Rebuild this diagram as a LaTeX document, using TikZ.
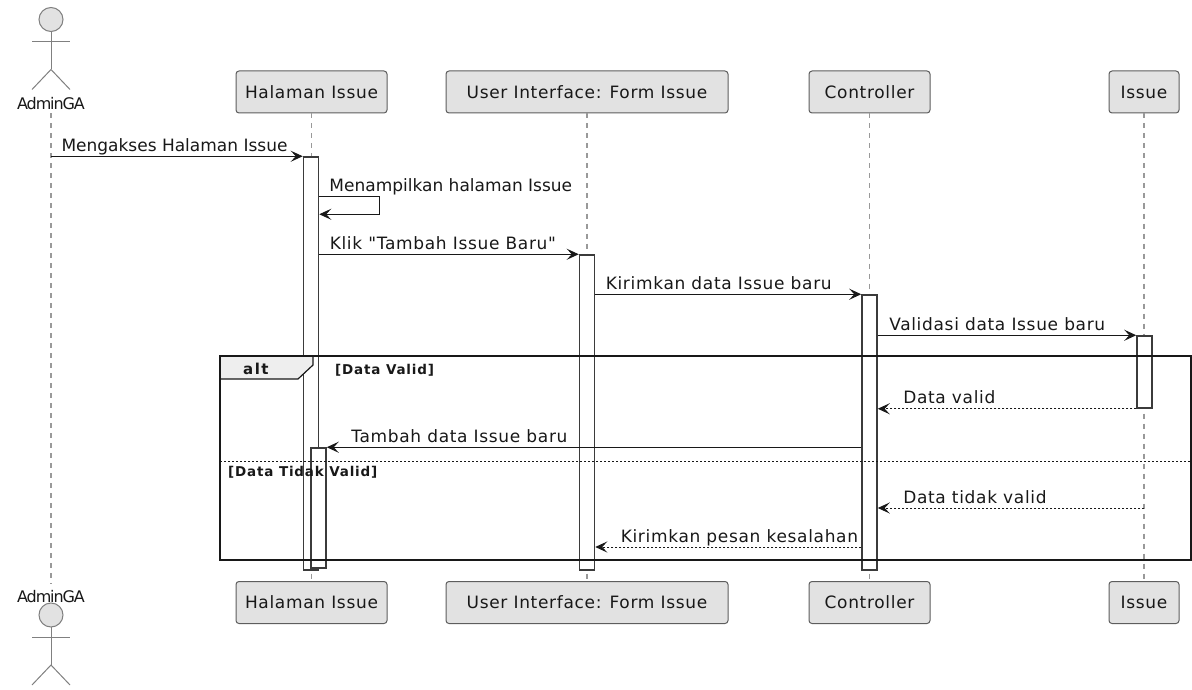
\documentclass[tikz,border=0pt]{standalone}
\usepackage{fontspec}
\setmainfont{DejaVu Sans}
\newfontfamily\plainfam{DejaVu Sans}
\newfontfamily\msgfam[LetterSpace=4]{DejaVu Sans}
\newfontfamily\actfam[LetterSpace=-7]{DejaVu Sans}
\newfontfamily\guardfam[LetterSpace=6]{DejaVu Sans}
\newfontfamily\altfam[LetterSpace=10]{DejaVu Sans}
\newcommand\plainfont{\plainfam\fontsize{17}{20}\selectfont}
\newcommand\msgfont{\msgfam\fontsize{17}{20}\selectfont}
\newcommand\actfont{\actfam\fontsize{16}{19}\selectfont}
\newcommand\guardfont{\guardfam\bfseries\fontsize{13.5}{16}\selectfont}
\newcommand\altfont{\altfam\bfseries\fontsize{15}{17}\selectfont}
\usetikzlibrary{arrows.meta,positioning}
\definecolor{ink}{HTML}{181818}
\definecolor{boxgray}{HTML}{E2E2E2}
\definecolor{altgray}{HTML}{EEEEEE}
\definecolor{lifegray}{HTML}{999999}

\begin{document}
\begin{tikzpicture}[x=1pt,y=-1pt,>={Stealth[length=12pt,width=11pt,inset=5pt]},
    part/.style={rectangle,draw=ink!70,fill=boxgray,rounded corners=3pt,line width=1pt,minimum height=42pt,inner sep=0pt,text=ink,font=\msgfont},
    life/.style={draw=lifegray,line width=1.3pt,dash pattern=on 5pt off 5pt},
    actor/.style={draw=ink!55,line width=1pt},
    bar/.style={rectangle,draw=ink!85,fill=white,line width=1.5pt,minimum width=15pt,inner sep=0pt},
    msg/.style={->,draw=ink,line width=1pt},
    reply/.style={msg,dash pattern=on 2pt off 2pt},
    lbl/.style={inner sep=0pt,anchor=base west,text=ink,font=\msgfont},
    guard/.style={inner sep=0pt,anchor=base west,text=ink,font=\guardfont}]
  \useasboundingbox (0,0) rectangle (1192,690);
  % participants
  \node[part,minimum width=151pt] (hal) at (311.5,92) {Halaman Issue};
  \node[part,minimum width=282pt] (ui) at (587,92) {User Interface: Form Issue};
  \node[part,minimum width=121pt] (ctrl) at (869.5,92) {Controller};
  \node[part,minimum width=70pt] (iss) at (1144,92) {Issue};
  \node[part,minimum width=151pt] (halB) at (311.5,602.5) {Halaman Issue};
  \node[part,minimum width=282pt] (uiB) at (587,602.5) {User Interface: Form Issue};
  \node[part,minimum width=121pt] (ctrlB) at (869.5,602.5) {Controller};
  \node[part,minimum width=70pt] (issB) at (1144,602.5) {Issue};
  % actor
  \node[inner sep=0pt,anchor=base,text=ink,font=\actfont] (adm) at (51,110) {AdminGA};
  \node[inner sep=0pt,anchor=base,text=ink,font=\actfont] (admB) at (51,602) {AdminGA};
  \foreach \hy in {19.5,615} {
    \draw[actor,fill=boxgray] (51,\hy) circle (12pt);
    \draw[actor] (51,\hy+12) -- (51,\hy+50);
    \draw[actor] (32,\hy+22.5) -- (70,\hy+22.5);
    \draw[actor] (32,\hy+70) -- (51,\hy+50) -- (70,\hy+70);
  }
  % lifelines
  \draw[life] ([yshift=-3pt]adm.south) -- ([yshift=6pt]admB.north);
  \draw[life] (hal) -- (halB);
  \draw[life] (ui) -- (uiB);
  \draw[life] (ctrl) -- (ctrlB);
  \draw[life] (iss) -- (issB);
  % activations
  \node[bar,minimum height=413pt] (h1) at (311,363.5) {};
  \node[bar,minimum height=120pt] (h2) at (318.5,508) {};
  \node[bar,minimum height=315pt] (u) at (587,412.5) {};
  \node[bar,minimum height=275pt] (c) at (869.5,432.5) {};
  \node[bar,minimum height=72pt] (i) at (1144.5,372) {};
  % alt frame
  \draw[fill=altgray,draw=ink,line width=1.2pt] (220,356) -- (313,356) -- (313,365) -- (298,379) -- (220,379) -- cycle;
  \draw[draw=ink,line width=2pt] (220,356) rectangle (1191,560);
  \draw[draw=ink,line width=1pt,dash pattern=on 2pt off 2pt] (220,461) -- (1191,461);
  \node[guard,font=\altfont] (alt) at (243,374) {alt};
  \node[guard] (gvalid) at (335,374) {[Data Valid]};
  \node[guard] (ginvalid) at (228,476) {[Data Tidak Valid]};
  % messages
  \draw[msg] (adm.south |- h1.north) -- (h1.north west)
    node[lbl,at start,xshift=10pt,yshift=5pt,font=\plainfont] {Mengakses Halaman Issue};
  \draw[msg] ([yshift=-40pt]h1.north east) -- ++(60,0) -- ++(0,18) -- ([yshift=-58pt]h1.north east);
  \node[lbl,font=\plainfont] (self) at ([xshift=10pt,yshift=-35pt]h1.north east) {Menampilkan halaman Issue};
  \draw[msg] (h1.east |- u.north) -- (u.north west)
    node[lbl,at start,xshift=10pt,yshift=5pt] {Klik "Tambah Issue Baru"};
  \draw[msg] (u.east |- c.north) -- (c.north west)
    node[lbl,at start,xshift=10pt,yshift=5pt] {Kirimkan data Issue baru};
  \draw[msg] (c.east |- i.north) -- (i.north west)
    node[lbl,at start,xshift=11pt,yshift=5pt] {Validasi data Issue baru};
  \draw[reply] (i.south west) -- (c.east |- i.south)
    node[lbl,at end,xshift=25pt,yshift=5pt] {Data valid};
  \draw[msg] (c.west |- h2.north) -- (h2.north east)
    node[lbl,at end,xshift=24pt,yshift=5pt] {Tambah data Issue baru};
  \coordinate (tv) at (1144,508);
  \draw[reply] (tv) -- (c.east |- tv)
    node[lbl,at end,xshift=25pt,yshift=5pt] {Data tidak valid};
  \coordinate (kp) at (869.5,547);
  \draw[reply] (c.west |- kp) -- (u.east |- kp)
    node[lbl,at end,xshift=25pt,yshift=5pt] {Kirimkan pesan kesalahan};
\end{tikzpicture}
\end{document}
